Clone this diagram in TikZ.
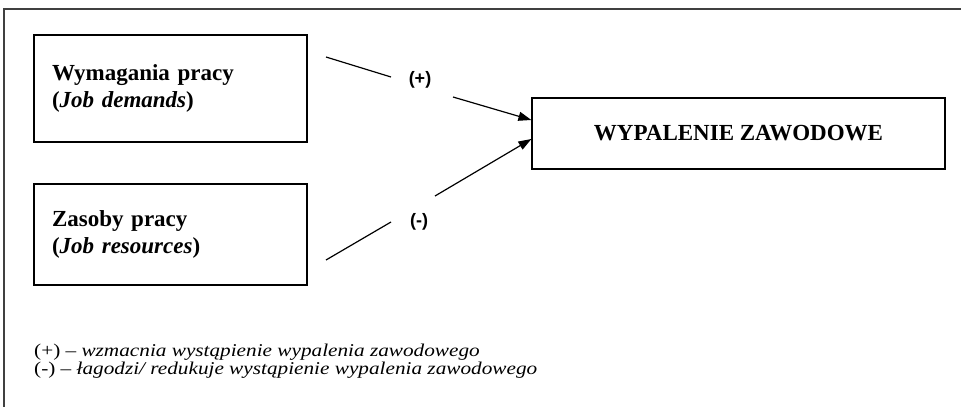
\documentclass[tikz,border=0pt]{standalone}
\usepackage{fontspec}
\setmainfont{Liberation Serif}
\newfontfamily\labfont{Liberation Sans}
\newfontfamily\legfont{Liberation Serif}[FakeStretch=1.18]
\usetikzlibrary{arrows.meta}
\begin{document}
\begin{tikzpicture}[x=1pt,y=-1pt,
  frame/.style={draw=black!75, line width=1.5pt},
  box/.style={draw=black, line width=1.2pt, inner sep=0pt, align=left,
    font=\fontsize{23}{26.5}\selectfont\bfseries},
  conn/.style={draw=black, line width=1.2pt},
  arr/.style={conn, -{Triangle[length=13pt,width=9pt]}},
  sign/.style={font=\labfont\fontsize{18}{20}\selectfont\bfseries, inner sep=0pt},
  legend/.style={font=\legfont\fontsize{18}{18}\selectfont, inner sep=0pt, anchor=base west}
]
\useasboundingbox (0,0) rectangle (961,407);
% outer frame (top and left)
\draw[frame] (961,9) -- (4,9) -- (4,407);
% boxes
\node[box, minimum width=273pt, minimum height=107pt, text width=237pt] (d) at (170.5,88.5)
  {Wymagania pracy\\(\textit{Job demands})};
\node[box, minimum width=273pt, minimum height=101pt, text width=237pt] (r) at (170.5,234.5)
  {Zasoby pracy\\(\textit{Job resources})};
\node[box, minimum width=413pt, minimum height=71pt, align=center] (b) at (738.5,133.5)
  {WYPALENIE ZAWODOWE};
% signs
\node[sign] (plus) at (420,80) {(+)};
\node[sign] (minus) at (419,222) {(-)};
% connectors
\path (b.west) ++(0,-13.5) coordinate (t1);
\path (b.west) ++(0,5.5) coordinate (t2);
\coordinate (u1) at (326,57);
\coordinate (u2) at (391,77);
\coordinate (u3) at (453,97);
\coordinate (l1) at (326,260);
\coordinate (l2) at (391,222);
\coordinate (l3) at (435,196);
\draw[conn] (u1) -- (u2);
\draw[arr] (u3) -- (t1);
\draw[conn] (l1) -- (l2);
\draw[arr] (l3) -- (t2);
% legend
\node[legend] (leg1) at (34,356) {(+) – \textit{wzmacnia wystąpienie wypalenia zawodowego}};
\node[legend] (leg2) at (34,374) {(-) – \textit{łagodzi/ redukuje wystąpienie wypalenia zawodowego}};
\end{tikzpicture}
\end{document}
